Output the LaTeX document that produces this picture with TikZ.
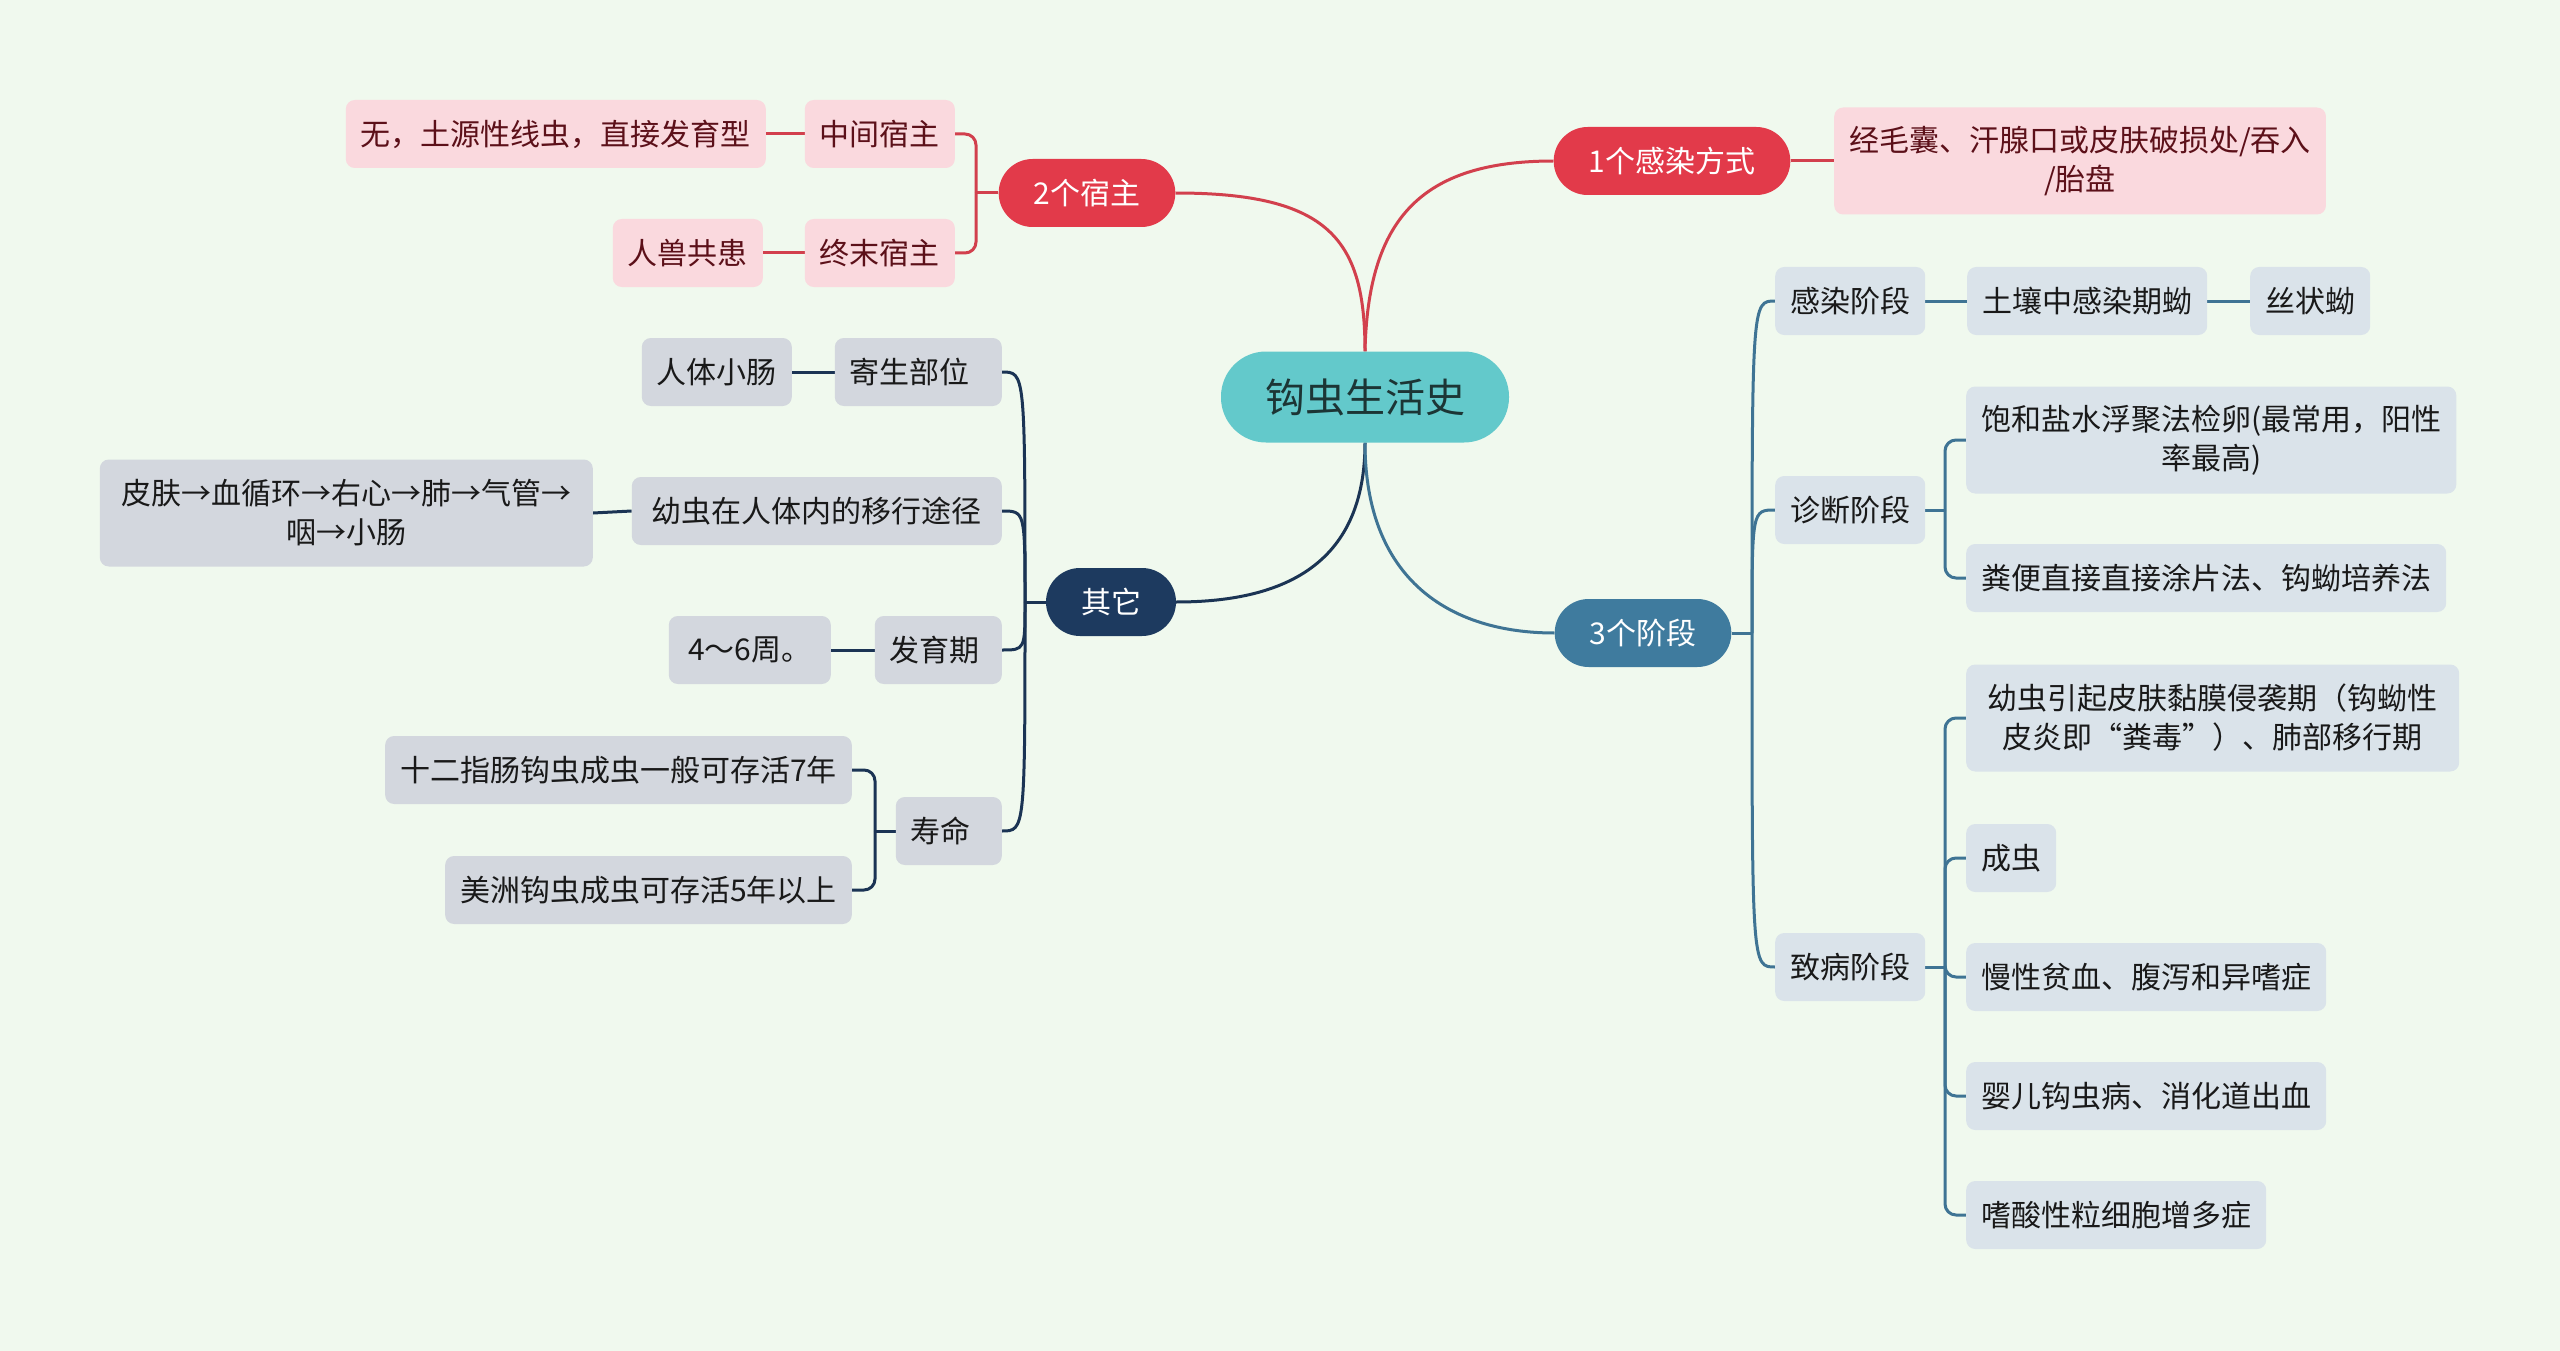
\documentclass[tikz,border=0pt]{standalone}
\usepackage{fontspec}
\setmainfont{Noto Sans CJK SC}
\usetikzlibrary{backgrounds}
\definecolor{bgc}{HTML}{F0F9EE}
\definecolor{redfill}{HTML}{E23A4A}
\definecolor{redline}{HTML}{D2404D}
\definecolor{pinkfill}{HTML}{FAD9DE}
\definecolor{pinktext}{HTML}{5C1019}
\definecolor{navyfill}{HTML}{1D3A5F}
\definecolor{navyline}{HTML}{1B3454}
\definecolor{greyfill}{HTML}{D3D7DE}
\definecolor{bluefill}{HTML}{3F7B9E}
\definecolor{blueline}{HTML}{3F7494}
\definecolor{blueleaf}{HTML}{DAE3EA}
\definecolor{rootfill}{HTML}{63C9CB}
\definecolor{roottext}{HTML}{1C3535}
\tikzset{
  every node/.style={font=\fontsize{30}{39}\selectfont},
  leafbox/.style={rounded corners=9pt, inner xsep=15pt, inner ysep=0pt, minimum height=68pt, align=center},
  twoline/.style={minimum height=107pt},
  pinkleaf/.style={leafbox, fill=pinkfill, text=pinktext},
  greyleaf/.style={leafbox, fill=greyfill, text=black!90},
  blueleaf/.style={leafbox, fill=blueleaf, text=black!90},
  mainpill/.style={rounded corners=34pt, inner xsep=35pt, inner ysep=0pt, minimum height=68pt, text=white},
  redcon/.style={draw=redline, line width=3pt},
  navycon/.style={draw=navyline, line width=3pt},
  bluecon/.style={draw=blueline, line width=3pt},
}
\begin{document}
\begin{tikzpicture}[x=1pt,y=-1pt]
\useasboundingbox (0,0) rectangle (2560,1351);
% root
\node[rounded corners=45pt, fill=rootfill, text=roottext, minimum width=288pt, minimum height=91pt, inner sep=0pt, font=\fontsize{40}{48}\selectfont] (root) at (1365,397) {钩虫生活史};
% red branch: infection
\node[mainpill, fill=redfill] (f1) at (1672,161) {1个感染方式};
\node[pinkleaf, twoline, anchor=west] (f1a) at (1834,161) {经毛囊、汗腺口或皮肤破损处/吞入\\/胎盘};
% red branch: hosts
\node[mainpill, fill=redfill] (h2) at (1087,193) {2个宿主};
\node[pinkleaf, anchor=east] (h2a) at (955,134) {中间宿主};
\node[pinkleaf, anchor=east] (h2a1) at (766,134) {无，土源性线虫，直接发育型};
\node[pinkleaf, anchor=east] (h2b) at (955,253) {终末宿主};
\node[pinkleaf, anchor=east] (h2b1) at (763,253) {人兽共患};
% navy branch
\node[mainpill, fill=navyfill] (qt) at (1111,602) {其它};
\node[greyleaf, anchor=east, text width=137pt, align=left] (q1) at (1002,372) {寄生部位};
\node[greyleaf, anchor=east] (q1a) at (792,372) {人体小肠};
\node[greyleaf, anchor=east, minimum width=370pt] (q2) at (1002,511) {幼虫在人体内的移行途径};
\node[greyleaf, twoline, anchor=east, minimum width=493pt] (q2a) at (593,513) {皮肤→血循环→右心→肺→气管→\\咽→小肠};
\node[greyleaf, anchor=east, text width=97pt, align=left] (q3) at (1002,650) {发育期};
\node[greyleaf, anchor=east, minimum width=162pt] (q3a) at (831,650) {4～6周。};
\node[greyleaf, anchor=east, text width=76pt, align=left] (q4) at (1002,831) {寿命};
\node[greyleaf, anchor=east] (q4a) at (852,770) {十二指肠钩虫成虫一般可存活7年};
\node[greyleaf, anchor=east] (q4b) at (852,890) {美洲钩虫成虫可存活5年以上};
% blue branch
\node[mainpill, fill=bluefill] (st) at (1643,633) {3个阶段};
\node[blueleaf, anchor=west] (s1) at (1775,301) {感染阶段};
\node[blueleaf, anchor=west] (s1a) at (1967,301) {土壤中感染期蚴};
\node[blueleaf, anchor=west] (s1b) at (2250,301) {丝状蚴};
\node[blueleaf, anchor=west] (s2) at (1775,510) {诊断阶段};
\node[blueleaf, twoline, anchor=west] (s2a) at (1966,440) {饱和盐水浮聚法检卵(最常用，阳性\\率最高)};
\node[blueleaf, anchor=west] (s2b) at (1966,578) {粪便直接直接涂片法、钩蚴培养法};
\node[blueleaf, anchor=west] (s3) at (1775,967) {致病阶段};
\node[blueleaf, twoline, anchor=west, minimum width=493pt] (s3a) at (1966,718) {幼虫引起皮肤黏膜侵袭期（钩蚴性\\皮炎即“粪毒”）、肺部移行期};
\node[blueleaf, anchor=west] (s3b) at (1966,858) {成虫};
\node[blueleaf, anchor=west] (s3c) at (1966,977) {慢性贫血、腹泻和异嗜症};
\node[blueleaf, anchor=west] (s3d) at (1966,1096) {婴儿钩虫病、消化道出血};
\node[blueleaf, anchor=west] (s3e) at (1966,1215) {嗜酸性粒细胞增多症};
% stub coordinates
\coordinate (hs) at (976,193);
\coordinate (qs) at (1025,602);
\coordinate (q4s) at (875,831);
\coordinate (ss) at (1752,633);
\coordinate (s2s) at (1945,510);
\coordinate (s3s) at (1945,967);
\begin{scope}[on background layer]
\fill[bgc] (0,0) rectangle (2560,1351);
% red
\draw[redcon] (h2.east) .. controls (1330,193) and (1365,240) .. (root.north);
\draw[redcon] (root.north) .. controls (1368,220) and (1420,161) .. (f1.west);
\draw[redcon] (f1.east) -- (f1a.west);
\draw[redcon] (h2.west) -- (hs);
\draw[redcon, rounded corners=11pt] (hs) -- (hs |- h2a.east) -- (h2a.east);
\draw[redcon, rounded corners=11pt] (hs) -- (hs |- h2b.east) -- (h2b.east);
\draw[redcon] (h2a.west) -- (h2a1.east);
\draw[redcon] (h2b.west) -- (h2b1.east);
% navy
\draw[navycon] (root.south) .. controls (1365,560) and (1290,602) .. (qt.east);
\draw[navycon] (qt.west) -- (qs);
\foreach \c in {q1,q2,q3,q4}{
  \draw[navycon] (qs) .. controls (qs |- \c.east) and (qs |- \c.east) .. (\c.east);
}
\draw[navycon] (q1.west) -- (q1a.east);
\draw[navycon] (q2.west) -- (q2a.east);
\draw[navycon] (q3.west) -- (q3a.east);
\draw[navycon] (q4.west) -- (q4s);
\draw[navycon, rounded corners=11pt] (q4s) -- (q4s |- q4a.east) -- (q4a.east);
\draw[navycon, rounded corners=11pt] (q4s) -- (q4s |- q4b.east) -- (q4b.east);
% blue
\draw[bluecon] (root.south) .. controls (1365,580) and (1450,633) .. (st.west);
\draw[bluecon] (st.east) -- (ss);
\foreach \c in {s1,s2,s3}{
  \draw[bluecon] (ss) .. controls (ss |- \c.west) and (ss |- \c.west) .. (\c.west);
}
\draw[bluecon] (s1.east) -- (s1a.west);
\draw[bluecon] (s1a.east) -- (s1b.west);
\draw[bluecon] (s2.east) -- (s2s);
\foreach \c in {s2a,s2b}{
  \draw[bluecon, rounded corners=11pt] (s2s) -- (s2s |- \c.west) -- (\c.west);
}
\draw[bluecon] (s3.east) -- (s3s);
\foreach \c in {s3a,s3b,s3c,s3d,s3e}{
  \draw[bluecon, rounded corners=11pt] (s3s) -- (s3s |- \c.west) -- (\c.west);
}
\end{scope}
\end{tikzpicture}
\end{document}
